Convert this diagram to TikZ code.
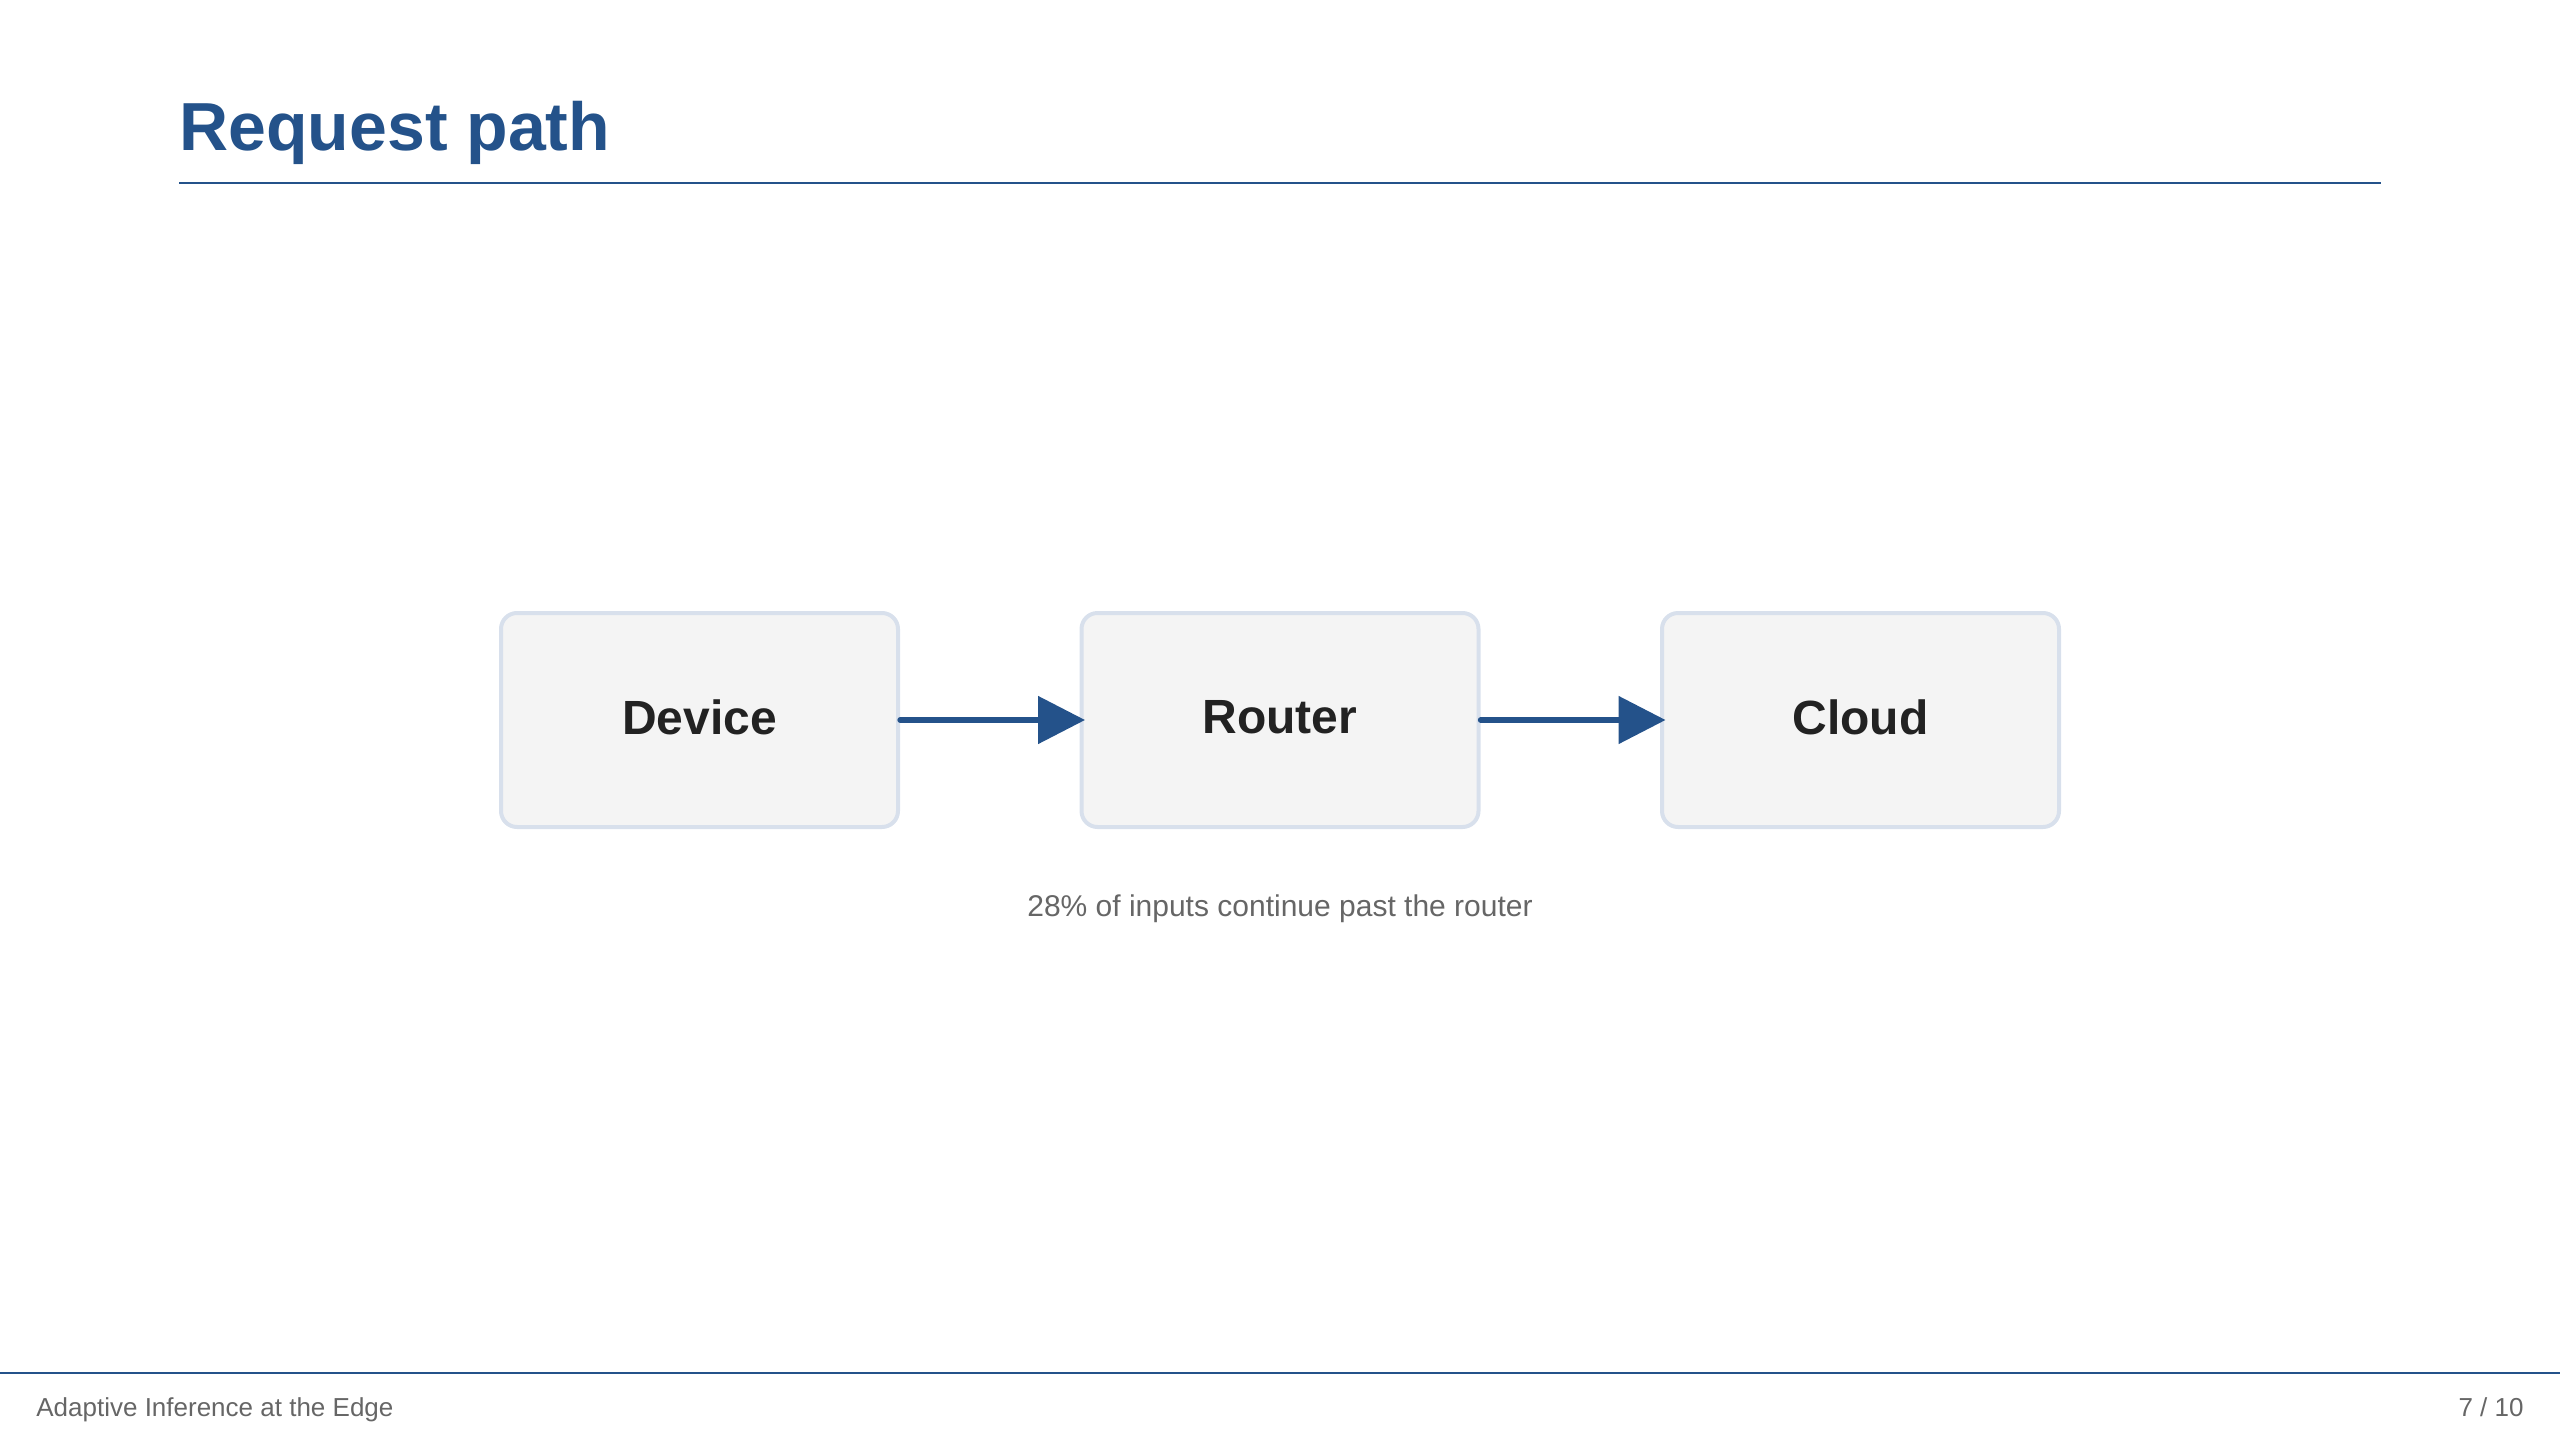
\documentclass[tikz,border=0pt]{standalone}
\usepackage{fontspec}
\setmainfont{Liberation Sans}
\usetikzlibrary{arrows.meta}
\definecolor{titleblue}{RGB}{36,82,138}
\definecolor{boxfill}{RGB}{244,244,244}
\definecolor{boxline}{RGB}{216,224,236}
\definecolor{boxtext}{RGB}{34,34,34}
\definecolor{muted}{RGB}{102,102,102}
\tikzset{
  stagebox/.style={draw=boxline, fill=boxfill, line width=2pt, rounded corners=8pt,
    minimum width=198.5pt, minimum height=107pt, inner sep=0pt, text depth=3pt,
    font=\fontsize{24pt}{28pt}\selectfont\bfseries, text=boxtext},
  flow/.style={draw=titleblue, line width=2.65pt, line cap=round, shorten >=-2.75pt,
    -{Triangle[length=23.5pt,width=23.5pt]}},
  rulestyle/.style={draw=titleblue, line width=1pt},
}
\begin{document}
\begin{tikzpicture}[x=0.5pt,y=-0.5pt]
\useasboundingbox (0,0) rectangle (2560,1440);
% title
\node[anchor=base west, inner sep=0pt, text=titleblue, font=\fontsize{34pt}{40pt}\selectfont\bfseries] (title) at (179,150) {Request path};
\coordinate (trl) at (179,183);
\coordinate (trr) at (2381,183);
\draw[rulestyle] (trl) -- (trr);
% boxes
\node[stagebox] (device) at (699.5,720) {Device};
\node[stagebox] (router) at (1280,720) {Router};
\node[stagebox] (cloud) at (1860.5,720) {Cloud};
\draw[flow] (device.east) -- (router.west);
\draw[flow] (router.east) -- (cloud.west);
% caption
\node[anchor=base, inner sep=0pt, text=muted, font=\fontsize{15pt}{18pt}\selectfont] (caption) at (1280,916) {28\% of inputs continue past the router};
% footer
\coordinate (frl) at (0,1373);
\coordinate (frr) at (2560,1373);
\draw[rulestyle] (frl) -- (frr);
\node[anchor=base west, inner sep=0pt, text=muted, font=\fontsize{13pt}{16pt}\selectfont] (foot) at (36,1416) {Adaptive Inference at the Edge};
\node[anchor=base east, inner sep=0pt, text=muted, font=\fontsize{13pt}{16pt}\selectfont] (page) at (2524,1416) {7 / 10};
\end{tikzpicture}
\end{document}
